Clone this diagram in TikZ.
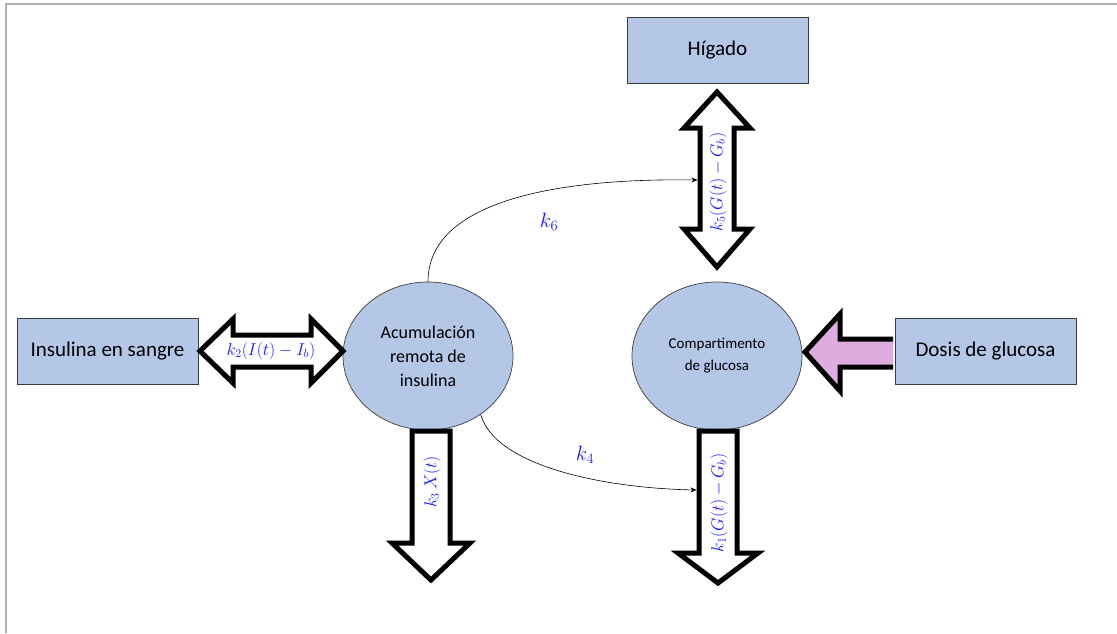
\documentclass[tikz,border=0pt]{standalone}
\usepackage{fontspec}
\setmainfont{Carlito}
\usetikzlibrary{arrows.meta,shapes.geometric}
\definecolor{boxblue}{RGB}{180,199,231}
\definecolor{boxline}{RGB}{60,60,60}
\definecolor{lblue}{RGB}{25,25,255}
\definecolor{pinkfill}{RGB}{222,172,222}
\begin{document}
\begin{tikzpicture}[x=1pt,y=-1pt,
  boxnode/.style={draw=boxline,line width=0.9pt,fill=boxblue,minimum width=181pt,minimum height=66pt,inner sep=0pt,font=\fontsize{21}{24}\selectfont},
  ellnode/.style={draw=boxline,line width=0.7pt,fill=boxblue,ellipse,minimum width=170pt,minimum height=148pt,inner sep=0pt,align=center},
  fatarrow/.style={draw=black,line width=5pt,fill=white,line join=miter},
  mathlbl/.style={text=lblue,inner sep=0pt,font=\fontsize{16.5}{18}\selectfont},
  klbl/.style={text=lblue,inner sep=0pt,font=\fontsize{22}{24}\selectfont},
  conn/.style={draw=black,line width=0.6pt,-{Stealth[length=6pt,width=5pt]}}]
\useasboundingbox (0,0) rectangle (1117,633);
\draw[gray!60,line width=1.2pt] (6,633) -- (6,4) -- (1117,4);

% boxes
\node[boxnode] (hig) at (717.5,50.5) {Hígado};
\node[boxnode] (ins) at (107.5,351) {Insulina en sangre};
\node[boxnode] (dos) at (985.5,351) {Dosis de glucosa};

% ellipses
\node[ellnode,font=\fontsize{18}{24}\selectfont] (acu) at (428,356) {Acumulación\\remota de\\insulina};
\node[ellnode,font=\fontsize{15}{22}\selectfont] (com) at (717,356) {Compartimento\\de glucosa};

% horizontal double arrow
\draw[fatarrow] (200,351) -- (233,319) -- (233,335) -- (311,335) -- (311,319) -- (343,351)
  -- (311,383) -- (311,367) -- (233,367) -- (233,383) -- cycle;
\node[mathlbl] (l2) at (271,351) {$k_2(I(t)-I_b)$};

% vertical double arrow (top)
\draw[fatarrow] (717,92) -- (684,128) -- (700,128) -- (700,229) -- (684,229) -- (717,267)
  -- (750,229) -- (734,229) -- (734,128) -- (750,128) -- cycle;
\node[mathlbl,rotate=90] (l5) at (718,182) {$k_5(G(t)-G_b)$};

% down arrow left
\draw[fatarrow] (412,431) -- (450,431) -- (450,543) -- (470,543) -- (431,580) -- (392,543) -- (412,543) -- cycle;
\node[mathlbl,rotate=90] (l3) at (432,482) {$k_3\,X(t)$};

% down arrow right
\draw[fatarrow] (699,431) -- (737,431) -- (737,553) -- (758,553) -- (718,583) -- (678,553) -- (699,553) -- cycle;
\node[mathlbl,rotate=90] (l1) at (719,503) {$k_1(G(t)-G_b)$};

% pink arrow
\draw[fatarrow,fill=pinkfill] (893,339) -- (840,339) -- (840,314) -- (805,352) -- (840,391) -- (840,367) -- (893,367);

% curved connectors
\coordinate (e6) at (697.5,180);
\coordinate (e4) at (696.5,490);
\draw[conn] (acu.north) .. controls (428,200) and (560,178) .. (e6);
\draw[conn] (acu.-48) .. controls (495,465) and (600,488) .. (e4);
\node[klbl] (k6) at (549,222) {$k_6$};
\node[klbl] (k4) at (585,455) {$k_4$};
\end{tikzpicture}
\end{document}
